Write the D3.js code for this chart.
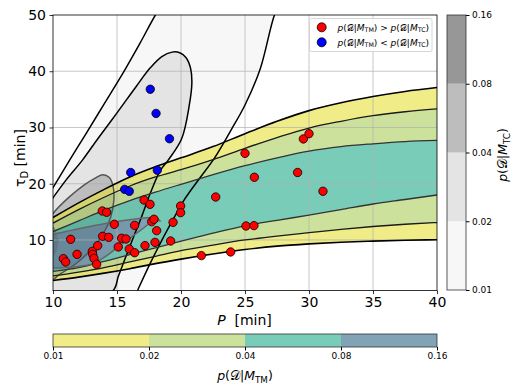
<!DOCTYPE html>
<html><head><meta charset="utf-8">
<script src="https://cdn.jsdelivr.net/npm/d3@7"></script>
<style>body{margin:0;background:#fff} svg{font-family:"DejaVu Sans",sans-serif}</style>
</head><body><svg id="c" width="520" height="390"></svg>
<script>
// ---- data ----
const pGrid     = [10,12,14,16,18,20,22.5,25,27.5,30,32.5,35,37.5,40];
const tmUpper01 = [14.0,16.6,19.0,21.2,23.0,24.6,26.6,28.9,31.1,33.0,34.4,35.5,36.4,37.1];
const tmUpper02 = [13.0,15.4,17.6,19.6,21.2,22.5,24.3,26.3,28.2,29.9,31.1,32.1,32.8,33.3];
const tmUpper04 = [11.5,13.4,15.3,17.0,18.5,19.9,21.6,23.2,24.6,25.8,26.6,27.1,27.5,27.7];
const tmLower04 = [4.4,5.1,6.2,7.4,8.6,9.8,11.2,12.5,13.5,14.4,15.4,16.4,17.2,18.0];
const tmLower02 = [3.6,4.3,5.1,6.1,7.1,8.1,9.1,10.0,10.7,11.3,11.9,12.4,12.8,13.1];
const tmLower01 = [2.8,3.4,4.1,4.9,5.8,6.6,7.5,8.3,8.9,9.3,9.6,9.8,9.95,10.05];
const tm08P     = [9.5,10,11,12,13,14,15,16,17,17.6,18.1,18.35];
const tm08Upper = [10.7,11.0,11.5,12.0,12.45,12.9,13.3,13.6,13.9,14.0,13.85,13.4];
const tm08Lower = [5.0,5.0,5.1,5.3,5.7,6.9,8.6,10.3,12.0,13.0,13.4,13.4];

const tc01P = [8.6,10,11.3,12.5,14,15.5,16.8,18.0,19.0,23.5,28.0,27.3,26.2,25.0,23.9,22.6,21.4,20.3,19.3,18.4,17.5,16.7,16.1,12,7.5,7.5];
const tc01T = [14.0,19.3,24.2,28.6,34.2,39.8,45.0,50.0,53.5,57,53.5,50,40.5,34,29.5,24.5,20.8,17.3,13.3,9.5,5.4,1.5,-1.5,-4,-3,8];
const tc02P = [8.6,10,11,12.3,13.5,15,16.5,17.6,18.5,19.3,19.9,20.4,20.75,20.85,20.65,20.05,19.0,18.4,17.6,16.9,16.2,15.6,15.1,14.7,11,7.5,7.5];
const tc02T = [13.0,17.5,20.6,24.2,28.0,32.6,37.3,40.6,42.6,43.4,43.3,42.4,40.5,38.0,34.0,28.0,24.2,22.4,18.3,14.0,10.0,6.5,3.5,1.0,-3,-3,6];
const tc04P = [9.0,10,11.3,12.5,13.3,13.9,14.4,14.7,14.75,14.5,13.9,13.0,11.9,10.6,9.5,8.5];
const tc04T = [11.0,14.7,17.7,19.9,21.0,21.6,21.1,19.5,17.0,14.0,11.0,8.3,6.0,4.0,2.5,6.0];
const tc08P = [9.5,10,10.3,10.4,10.3,10,9.5];
const tc08T = [12.8,12.3,10.7,9.5,8.3,7.0,6.5];

const redP = [11.38,10.81,10.99,11.88,13.07,13.10,13.20,13.49,13.41,13.85,14.19,13.88,14.35,14.79,15.36,15.70,15.10,16.38,15.96,16.38,17.11,17.58,17.71,17.89,18.10,17.19,17.97,19.19,19.38,19.97,19.97,21.59,23.88,22.71,25.00,25.73,25.08,25.70,29.11,29.56,30.00,31.09];
const redT = [10.12,6.68,6.09,7.45,7.98,7.45,6.74,8.99,5.68,15.16,14.92,10.65,10.47,12.79,10.30,10.18,8.76,12.60,8.40,7.74,17.10,16.34,13.26,13.68,11.66,9.00,9.58,9.82,13.14,16.04,14.86,7.22,7.87,17.64,25.40,21.15,12.49,12.55,22.00,27.96,28.90,18.66];
const blueP = [17.6,18.05,19.1,16.07,18.15,15.6,15.96];
const blueT = [36.8,32.5,28.0,22.0,22.4,19.0,18.65];

const levels = [0.01,0.02,0.04,0.08,0.16];
const xTicks = [10,15,20,25,30,35,40];
const yTicks = [10,20,30,40,50];

// ---- styles ----
const tcColors = ['#f7f7f7','#e4e4e4','#bdbdbd','#979797'];
const tmColors = ['#e6df37','#aacf5a','#1eaa89','#2f6685'];
const tmAlpha = 0.6;

const svg = d3.select('#c');
const x = d3.scaleLinear().domain([10,40]).range([53,437]);
const y = d3.scaleLinear().domain([1,50]).range([290.6,15]);
const zip = (P,T)=>P.map((p,i)=>[p,T[i]]);

svg.append('defs').append('clipPath').attr('id','clip').append('rect')
  .attr('x',x(10)).attr('y',y(50)).attr('width',x(40)-x(10)).attr('height',y(1)-y(50));
const plot = svg.append('g').attr('clip-path','url(#clip)');

const closedLine = d3.line().x(d=>x(d[0])).y(d=>y(d[1])).curve(d3.curveCatmullRomClosed.alpha(0.5));
const tcShapes = [
  {d:zip(tc01P,tc01T), fill:tcColors[0], stroke:'#000', w:1.5},
  {d:zip(tc02P,tc02T), fill:tcColors[1], stroke:'#000', w:1.5},
  {d:zip(tc04P,tc04T), fill:tcColors[2], stroke:'#555', w:1.5},
  {d:zip(tc08P,tc08T), fill:tcColors[3], stroke:'#777', w:1.2}
];
tcShapes.forEach(s=>plot.append('path').attr('d',closedLine(s.d)).attr('fill',s.fill).attr('stroke','none'));

// MTM bands
const tmG = plot.append('g').attr('opacity',tmAlpha);
const band = (U,L)=>d3.area().x((d,i)=>x(pGrid[i])).y0((d,i)=>y(L[i])).y1((d,i)=>y(U[i])).curve(d3.curveMonotoneX)(pGrid);
tmG.append('path').attr('d',band(tmUpper01,tmLower01)).attr('fill',tmColors[0]);
tmG.append('path').attr('d',band(tmUpper02,tmLower02)).attr('fill',tmColors[1]);
tmG.append('path').attr('d',band(tmUpper04,tmLower04)).attr('fill',tmColors[2]);
const area08 = d3.area().x((d,i)=>x(tm08P[i])).y0((d,i)=>y(tm08Lower[i])).y1((d,i)=>y(tm08Upper[i])).curve(d3.curveMonotoneX)(tm08P);
tmG.append('path').attr('d',area08).attr('fill',tmColors[3]);

// grid
const grid = plot.append('g').attr('stroke','#b0b0b0').attr('stroke-opacity',0.7).attr('stroke-width',1);
xTicks.slice(1,-1).forEach(v=>grid.append('line').attr('x1',x(v)).attr('x2',x(v)).attr('y1',y(1)).attr('y2',y(50)));
yTicks.slice(0,-1).forEach(v=>grid.append('line').attr('x1',x(10)).attr('x2',x(40)).attr('y1',y(v)).attr('y2',y(v)));

// contour lines
tcShapes.forEach(s=>plot.append('path').attr('d',closedLine(s.d)).attr('fill','none').attr('stroke',s.stroke).attr('stroke-width',s.w));
const curve = T=>d3.line().x((d,i)=>x(pGrid[i])).y((d,i)=>y(T[i])).curve(d3.curveMonotoneX)(pGrid);
[[tmUpper01,'#000',1.6],[tmLower01,'#000',1.6],[tmUpper02,'#1a1a1a',1.3],[tmLower02,'#1a1a1a',1.3],[tmUpper04,'#333',1.3],[tmLower04,'#333',1.3]]
  .forEach(([T,c,w])=>plot.append('path').attr('d',curve(T)).attr('fill','none').attr('stroke',c).attr('stroke-width',w));
plot.append('path').attr('d',area08).attr('fill','none').attr('stroke','#666').attr('stroke-width',1.5);

// points
plot.selectAll('.r').data(zip(redP,redT)).join('circle').attr('cx',d=>x(d[0])).attr('cy',d=>y(d[1])).attr('r',4.2)
  .attr('fill','#ff0000').attr('stroke','#000').attr('stroke-width',0.8);
plot.selectAll('.b').data(zip(blueP,blueT)).join('circle').attr('cx',d=>x(d[0])).attr('cy',d=>y(d[1])).attr('r',4.2)
  .attr('fill','#0000ff').attr('stroke','#000').attr('stroke-width',0.8);

// axes
const ax = svg.append('g').attr('transform',`translate(0,${y(1)})`)
  .call(d3.axisBottom(x).tickValues(xTicks).tickSize(3.5).tickPadding(2.5).tickFormat(d3.format('d')));
const ay = svg.append('g').attr('transform',`translate(${x(10)},0)`)
  .call(d3.axisLeft(y).tickValues(yTicks).tickSize(3.5).tickPadding(3.5).tickFormat(d3.format('d')));
[ax,ay].forEach(a=>{a.select('.domain').remove(); a.selectAll('text').attr('font-size',14).attr('font-family','DejaVu Sans').attr('fill','#000'); a.selectAll('line').attr('stroke','#000').attr('stroke-width',0.8);});
svg.append('rect').attr('x',x(10)).attr('y',y(50)).attr('width',x(40)-x(10)).attr('height',y(1)-y(50))
  .attr('fill','none').attr('stroke','#000').attr('stroke-width',0.8);

// math label helper
function math(t, parts, size){
  let off = 0;
  parts.forEach(([s,st])=>{
    const ts = t.append('tspan').text(s);
    if (st.includes('i')) ts.attr('font-style','italic');
    if (st.includes('s')) { ts.attr('font-size', size*0.7).attr('dy', size*0.22 - off); off = size*0.22; }
    else { if (off) ts.attr('dy', -off); off = 0; }
  });
  return t;
}
const pTM = [['p','i'],['(',''],['𝒟',''],['|',''],['M','i'],['TM','s'],[')','']];
const pTC = [['p','i'],['(',''],['𝒟',''],['|',''],['M','i'],['TC','s'],[')','']];

math(svg.append('text').attr('x',244.5).attr('y',325).attr('text-anchor','middle').attr('font-size',14),
  [['P','i'],['  [min]','']],14).attr('xml:space','preserve');
math(svg.append('text').attr('transform',`translate(25,158) rotate(-90)`).attr('text-anchor','middle').attr('font-size',14),
  [['τ',''],['D','s'],[' [min]','']],14);

// right colorbar (M_TC)
const cbR = d3.scaleLog().domain([0.01,0.16]).range([290,15]);
const cbRg = svg.append('g');
for(let i=0;i<4;i++) cbRg.append('rect').attr('x',447).attr('width',19).attr('y',cbR(levels[i+1])).attr('height',cbR(levels[i])-cbR(levels[i+1])).attr('fill',tcColors[i]);
cbRg.append('rect').attr('x',447).attr('width',19).attr('y',15).attr('height',275).attr('fill','none').attr('stroke','#333').attr('stroke-width',0.8);
const axR = svg.append('g').attr('transform','translate(466,0)').call(d3.axisRight(cbR).tickValues(levels).tickFormat(d3.format('.2f')).tickSize(3.5).tickPadding(2.5));
axR.select('.domain').remove(); axR.selectAll('text').attr('font-size',9).attr('font-family','DejaVu Sans');
math(svg.append('text').attr('transform','translate(507,155) rotate(-90)').attr('text-anchor','middle').attr('font-size',12.5), pTC, 12.5);

// bottom colorbar (M_TM)
const cbB = d3.scaleLog().domain([0.01,0.16]).range([53,437]);
const cbBg = svg.append('g');
for(let i=0;i<4;i++) cbBg.append('rect').attr('y',334).attr('height',13).attr('x',cbB(levels[i])).attr('width',cbB(levels[i+1])-cbB(levels[i])).attr('fill',tmColors[i]).attr('opacity',tmAlpha);
cbBg.append('rect').attr('y',334).attr('height',13).attr('x',53).attr('width',384).attr('fill','none').attr('stroke','#333').attr('stroke-width',0.8);
const axB = svg.append('g').attr('transform','translate(0,347)').call(d3.axisBottom(cbB).tickValues(levels).tickFormat(d3.format('.2f')).tickSize(3.5).tickPadding(2));
axB.select('.domain').remove(); axB.selectAll('text').attr('font-size',9).attr('font-family','DejaVu Sans');
math(svg.append('text').attr('x',245).attr('y',380).attr('text-anchor','middle').attr('font-size',12.5), pTM, 12.5);

// legend
const lg = svg.append('g');
lg.append('rect').attr('x',309.5).attr('y',18.5).attr('width',122.5).attr('height',33).attr('rx',2)
  .attr('fill','#fff').attr('fill-opacity',0.85).attr('stroke','#ccc').attr('stroke-width',0.8);
[[27.3,'#ff0000',[...pTM,[' > ',''],...pTC]],[42.3,'#0000ff',[...pTM,[' < ',''],...pTC]]].forEach(([yy,c,parts])=>{
  lg.append('circle').attr('cx',321.7).attr('cy',yy).attr('r',4.5).attr('fill',c).attr('stroke','#000').attr('stroke-width',0.8);
  math(lg.append('text').attr('x',337.5).attr('y',yy+3.2).attr('font-size',9).attr('xml:space','preserve'), parts, 9);
});
</script></body></html>
